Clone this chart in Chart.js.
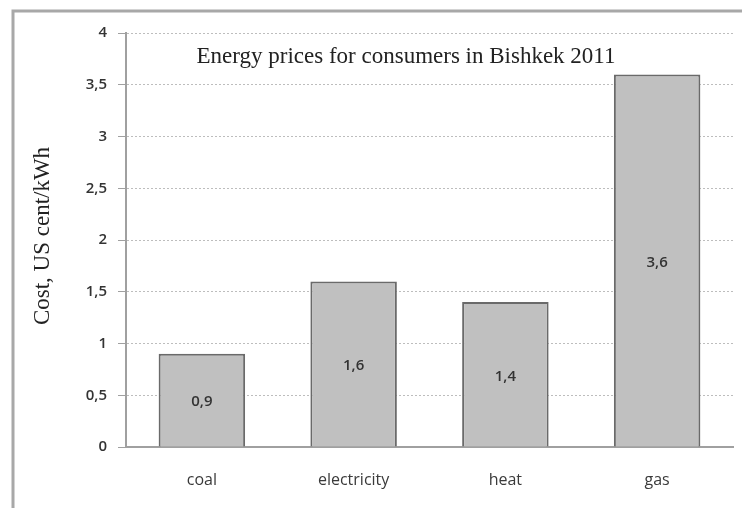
<!DOCTYPE html>
<html>
<head>
<meta charset="utf-8">
<script src="https://cdn.jsdelivr.net/npm/chart.js@4"></script>
<style>
  body { margin: 0; background: #fff; }
</style>
</head>
<body>
<canvas id="barChart" width="742" height="508"></canvas>
<script>
const categories = ['coal', 'electricity', 'heat', 'gas'];
const prices = [0.9, 1.6, 1.4, 3.6];
const yTicks = [0, 0.5, 1, 1.5, 2, 2.5, 3, 3.5, 4];

const chartTitle = 'Energy prices for consumers in Bishkek 2011';
const yTitle = 'Cost, US cent/kWh';

const fmt = (v) => String(v).replace('.', ',');

// frame, title, y title and value labels
const extras = {
  id: 'extras',
  beforeDraw(chart) {
    const c = chart.ctx;
    c.save();
    c.strokeStyle = '#a8a8a8';
    c.lineWidth = 3;
    c.beginPath();
    c.moveTo(13, 508);
    c.lineTo(13, 11);
    c.lineTo(742, 11);
    c.stroke();
    c.restore();
  },
  afterDatasetsDraw(chart) {
    const c = chart.ctx;
    c.save();
    c.fillStyle = '#333';
    c.font = '600 15px "Open Sans", sans-serif';
    c.textAlign = 'center';
    c.textBaseline = 'middle';
    chart.getDatasetMeta(0).data.forEach((bar, i) => {
      c.fillText(fmt(prices[i]), bar.x, (bar.y + bar.base) / 2 + 2);
    });

    c.font = '23px "Liberation Serif", serif';
    c.fillStyle = '#222';
    c.fillText(chartTitle, 406, 57);

    c.translate(43, 236);
    c.rotate(-Math.PI / 2);
    c.fillText(yTitle, 0, 0);
    c.restore();
  },
};

const barChart = new Chart(document.getElementById('barChart'), {
  type: 'bar',
  data: {
    labels: categories,
    datasets: [{
      data: prices,
      backgroundColor: '#c0c0c0',
      borderColor: '#6a6a6a',
      borderWidth: 2,
      barPercentage: 0.57,
      categoryPercentage: 1,
    }],
  },
  options: {
    responsive: false,
    animation: false,
    layout: { padding: { left: 0, right: 9, top: 33, bottom: 0 } },
    plugins: {
      legend: { display: false },
      tooltip: { enabled: false },
    },
    scales: {
      x: {
        grid: { display: false },
        border: { color: '#a0a0a0', width: 2 },
        ticks: {
          color: '#3a3a3a',
          font: { family: 'Open Sans', size: 16 },
          padding: 16,
        },
        afterFit(scale) { scale.height = 61; },
      },
      y: {
        min: 0,
        max: 4,
        afterBuildTicks(scale) {
          scale.ticks = yTicks.map((v) => ({ value: v }));
        },
        grid: {
          color: '#bdbdbd',
          tickBorderDash: [],
          tickColor: '#a0a0a0',
          tickLength: 8,
        },
        border: { color: '#a0a0a0', width: 2, dash: [2, 2] },
        ticks: {
          color: '#333',
          font: { family: 'Open Sans', size: 15, weight: '600' },
          padding: 11,
          callback: (v) => fmt(v),
        },
        afterFit(scale) { scale.width = 126; },
      },
    },
  },
  plugins: [extras],
});
</script>
</body>
</html>
